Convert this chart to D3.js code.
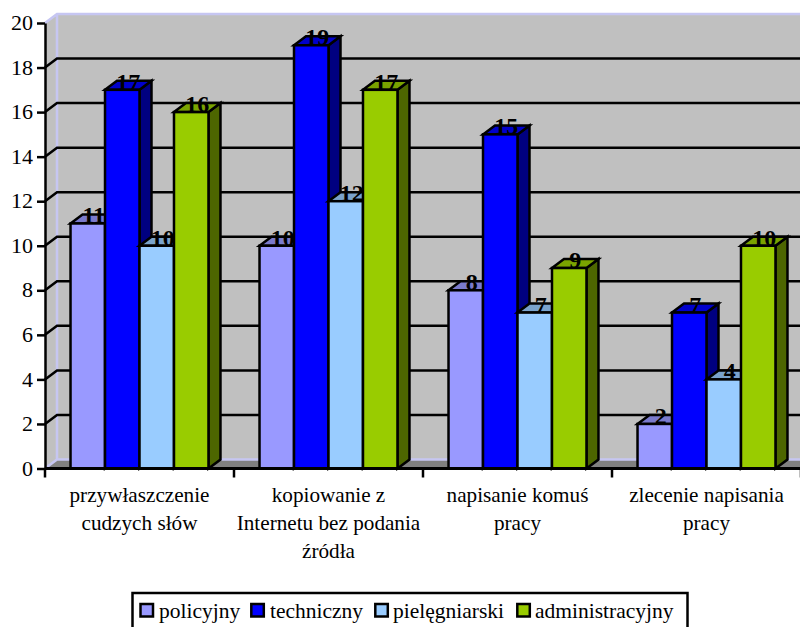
<!DOCTYPE html>
<html>
<head>
<meta charset="utf-8">
<script src="https://cdn.jsdelivr.net/npm/d3@7/dist/d3.min.js"></script>
<style>
html,body{margin:0;padding:0;background:#fff}
svg{display:block}
text{font-family:"Liberation Serif","Times New Roman",serif;fill:#000}
</style>
</head>
<body>
<svg id="chart" width="800" height="627"></svg>
<script>
const categories = [
  ["przywłaszczenie", "cudzych słów"],
  ["kopiowanie z", "Internetu bez podania", "źródła"],
  ["napisanie komuś", "pracy"],
  ["zlecenie napisania", "pracy"]
];
const seriesNames = ["policyjny", "techniczny", "pielęgniarski", "administracyjny"];
const policyjny = [11, 10, 8, 2];
const techniczny = [17, 19, 15, 7];
const pielegniarski = [10, 12, 7, 4];
const administracyjny = [16, 17, 9, 10];
const seriesValues = [policyjny, techniczny, pielegniarski, administracyjny];
const yTicks = [0, 2, 4, 6, 8, 10, 12, 14, 16, 18, 20];
const frontColors = ["#9999ff", "#0000ff", "#99ccff", "#99cc00"];
const topColors = ["#7a7acc", "#0000cc", "#7aa3cc", "#7aa300"];
const sideColors = ["#4d4d80", "#000080", "#4d6680", "#4d6600"];

const svg = d3.select("#chart");
const plotLeft = 45, plotRight = 801, plotBottom = 468.5, plotTop = 23;
const depthX = 12, depthY = -9;
const lineWidth = 2.5;

const y = d3.scaleLinear().domain([0, 20]).range([plotBottom, plotTop]);
const x0 = d3.scaleBand().domain(d3.range(categories.length)).range([plotLeft, plotRight]);
const x1 = d3.scaleBand().domain(d3.range(seriesNames.length))
  .range([0, x0.bandwidth()]).paddingOuter(0.74).paddingInner(0);

const poly = pts => "M" + pts.map(p => p.join(",")).join("L") + "Z";

// back wall, side wall and floor of the plot box
svg.append("path").attr("fill", "#c0c0c0")
  .attr("d", poly([[plotLeft + depthX, plotTop + depthY], [plotRight, plotTop + depthY], [plotRight, plotBottom + depthY], [plotLeft + depthX, plotBottom + depthY]]));
svg.append("path").attr("fill", "#c0c0c0")
  .attr("d", poly([[plotLeft, plotTop], [plotLeft + depthX, plotTop + depthY], [plotLeft + depthX, plotBottom + depthY], [plotLeft, plotBottom]]));
svg.append("path").attr("fill", "#808080")
  .attr("d", poly([[plotLeft, plotBottom], [plotLeft + depthX, plotBottom + depthY], [plotRight, plotBottom + depthY], [plotRight, plotBottom]]));
svg.append("path").attr("fill", "none").attr("stroke", "#c6c6f2").attr("stroke-width", 2.5)
  .attr("d", `M${plotLeft},${plotTop}L${plotLeft + depthX},${plotTop + depthY}L${plotRight},${plotTop + depthY}M${plotLeft + depthX},${plotTop + depthY}L${plotLeft + depthX},${plotBottom + depthY}L${plotRight},${plotBottom + depthY}M${plotLeft},${plotBottom}L${plotLeft + depthX},${plotBottom + depthY}`);

// gridlines wrap from the side wall onto the back wall
svg.append("g").selectAll("path").data(yTicks.slice(1, -1)).join("path")
  .attr("fill", "none").attr("stroke", "#000").attr("stroke-width", lineWidth)
  .attr("d", d => `M${plotLeft},${y(d)}L${plotLeft + depthX},${y(d) + depthY}L${plotRight},${y(d) + depthY}`);

// value axis
const yAxis = svg.append("g").attr("transform", `translate(${plotLeft},0)`)
  .call(d3.axisLeft(y).tickValues(yTicks).tickSize(8).tickPadding(4).tickSizeOuter(0));
yAxis.select(".domain").attr("stroke", "#000").attr("stroke-width", lineWidth);
yAxis.selectAll(".tick line").attr("stroke", "#000").attr("stroke-width", lineWidth);
yAxis.selectAll(".tick text").style("font-size", "22px").style("font-family", '"Liberation Serif",serif').attr("dy", "0.3em");

// bars, each with a front, a top and a side face
const barLayer = svg.append("g");
categories.forEach((_, c) => {
  seriesValues.forEach((vals, s) => {
    const xa = x0(c) + x1(s), xb = xa + x1.bandwidth();
    const yt = y(vals[c]);
    const g = barLayer.append("g").attr("stroke", "#000").attr("stroke-width", lineWidth).attr("stroke-linejoin", "miter");
    g.append("path").attr("fill", sideColors[s])
      .attr("d", poly([[xb, yt], [xb + depthX, yt + depthY], [xb + depthX, plotBottom + depthY], [xb, plotBottom]]));
    g.append("path").attr("fill", topColors[s])
      .attr("d", poly([[xa, yt], [xa + depthX, yt + depthY], [xb + depthX, yt + depthY], [xb, yt]]));
    g.append("rect").attr("x", xa).attr("y", yt).attr("width", xb - xa).attr("height", plotBottom - yt).attr("fill", frontColors[s]);
  });
});

// value labels sit over the top face of each bar
const labelLayer = svg.append("g");
categories.forEach((_, c) => {
  seriesValues.forEach((vals, s) => {
    labelLayer.append("text")
      .attr("x", x0(c) + x1(s) + x1.bandwidth() / 2 + depthX / 2)
      .attr("y", y(vals[c]))
      .attr("text-anchor", "middle")
      .style("font-size", "24px").style("font-weight", "bold")
      .text(vals[c]);
  });
});

// category axis
svg.append("path").attr("fill", "none").attr("stroke", "#000").attr("stroke-width", lineWidth + 0.5)
  .attr("d", `M${plotLeft},${plotBottom}L${plotRight},${plotBottom}`);
svg.append("g").selectAll("line").data(d3.range(categories.length + 1)).join("line")
  .attr("x1", d => plotLeft + d * x0.bandwidth()).attr("x2", d => plotLeft + d * x0.bandwidth())
  .attr("y1", plotBottom).attr("y2", plotBottom + 9)
  .attr("stroke", "#000").attr("stroke-width", lineWidth);
const catLabels = svg.append("g").selectAll("text").data(categories).join("text")
  .attr("text-anchor", "middle").style("font-size", "21.2px");
catLabels.each(function (lines, i) {
  d3.select(this).selectAll("tspan").data(lines).join("tspan")
    .attr("x", x0(i) + x0.bandwidth() / 2)
    .attr("y", (d, j) => 502 + j * 28)
    .text(d => d);
});

// legend
const legendX = [140.5, 251.3, 375.3, 517.3], legendTextX = [159, 270, 393, 535];
svg.append("rect").attr("x", 132.5).attr("y", 593).attr("width", 555).attr("height", 36)
  .attr("fill", "#fff").attr("stroke", "#000").attr("stroke-width", lineWidth);
const legend = svg.append("g").selectAll("g").data(seriesNames).join("g");
legend.append("rect").attr("x", (d, i) => legendX[i]).attr("y", 604).attr("width", 12.5).attr("height", 12.5)
  .attr("fill", (d, i) => frontColors[i]).attr("stroke", "#000").attr("stroke-width", lineWidth);
legend.append("text").attr("x", (d, i) => legendTextX[i]).attr("y", 618)
  .style("font-size", "21.5px").text(d => d);
</script>
</body>
</html>
